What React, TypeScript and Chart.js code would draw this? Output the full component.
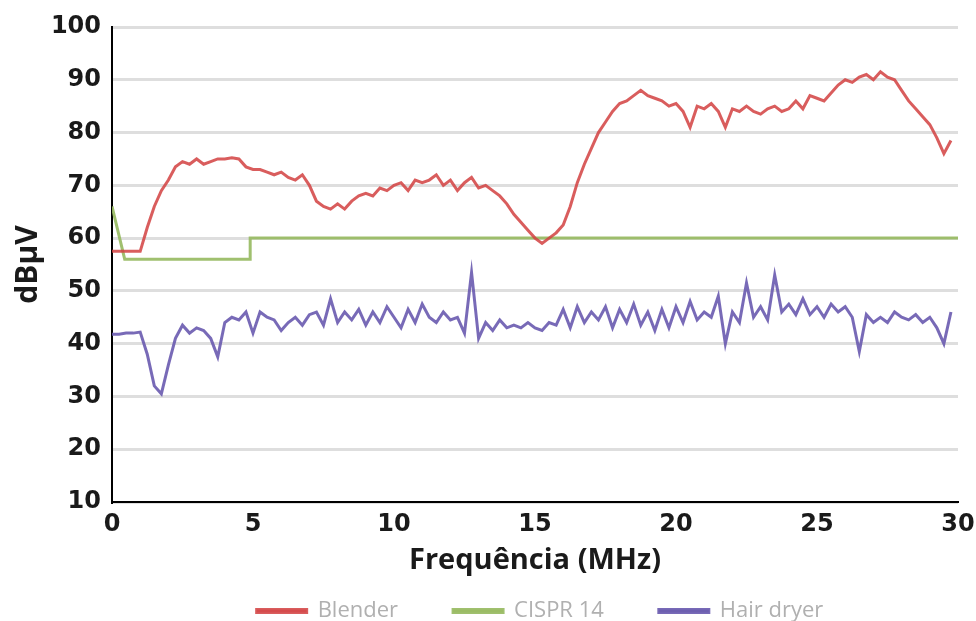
import React, { useEffect, useRef } from "react";
import { Chart, registerables } from "chart.js";

Chart.register(...registerables);

const FREQ = [
  0, 0.25, 0.5, 0.75, 1, 1.25, 1.5, 1.75, 2, 2.25, 2.5, 2.75, 3, 3.25, 3.5, 3.75, 4, 4.25, 4.5, 4.75,
  5, 5.25, 5.5, 5.75, 6, 6.25, 6.5, 6.75, 7, 7.25, 7.5, 7.75, 8, 8.25, 8.5, 8.75, 9, 9.25, 9.5, 9.75,
  10, 10.25, 10.5, 10.75, 11, 11.25, 11.5, 11.75, 12, 12.25, 12.5, 12.75, 13, 13.25, 13.5, 13.75, 14, 14.25, 14.5, 14.75,
  15, 15.25, 15.5, 15.75, 16, 16.25, 16.5, 16.75, 17, 17.25, 17.5, 17.75, 18, 18.25, 18.5, 18.75, 19, 19.25, 19.5, 19.75,
  20, 20.25, 20.5, 20.75, 21, 21.25, 21.5, 21.75, 22, 22.25, 22.5, 22.75, 23, 23.25, 23.5, 23.75, 24, 24.25, 24.5, 24.75,
  25, 25.25, 25.5, 25.75, 26, 26.25, 26.5, 26.75, 27, 27.25, 27.5, 27.75, 28, 28.25, 28.5, 28.75, 29, 29.25, 29.5, 29.75,
];

const BLENDER = [
  57.5, 57.5, 57.5, 57.5, 57.5, 62, 66, 69, 71, 73.5, 74.5, 74, 75, 74, 74.5, 75, 75, 75.2, 75, 73.5,
  73, 73, 72.5, 72, 72.5, 71.5, 71, 72, 70, 67, 66, 65.5, 66.5, 65.5, 67, 68, 68.5, 68, 69.5, 69,
  70, 70.5, 69, 71, 70.5, 71, 72, 70, 71, 69, 70.5, 71.5, 69.5, 70, 69, 68, 66.5, 64.5, 63, 61.5,
  60, 59, 60, 61, 62.5, 66, 70.5, 74, 77, 80, 82, 84, 85.5, 86, 87, 88, 87, 86.5, 86, 85,
  85.5, 84, 81, 85, 84.5, 85.5, 84, 81, 84.5, 84, 85, 84, 83.5, 84.5, 85, 84, 84.5, 86, 84.5, 87,
  86.5, 86, 87.5, 89, 90, 89.5, 90.5, 91, 90, 91.5, 90.5, 90, 88, 86, 84.5, 83, 81.5, 79, 76, 78.5,
];

const HAIR_DRYER = [
  41.8, 41.8, 42, 42, 42.2, 38, 32, 30.5, 36, 41, 43.5, 42, 43, 42.5, 41, 37.5, 44, 45, 44.5, 46,
  42, 46, 45, 44.5, 42.5, 44, 45, 43.5, 45.5, 46, 43.5, 48.5, 44, 46, 44.5, 46.5, 43.5, 46, 44, 47,
  45, 43, 46.5, 44, 47.5, 45, 44, 46, 44.5, 45, 42, 53.5, 41, 44, 42.5, 44.5, 43, 43.5, 43, 44,
  43, 42.5, 44, 43.5, 46.5, 43, 47, 44, 46, 44.5, 47, 43, 46.5, 44, 47.5, 43.5, 46, 42.5, 46.5, 43,
  47, 44, 48, 44.5, 46, 45, 49, 40, 46, 44, 51.5, 45, 47, 44.5, 53, 46, 47.5, 45.5, 48.5, 45.5,
  47, 45, 47.5, 46, 47, 45, 38.5, 45.5, 44, 45, 44, 46, 45, 44.5, 45.5, 44, 45, 43, 40, 46,
];

const CISPR_FREQ = [0, 0.45, 4.9, 4.9, 30];
const CISPR_14 = [66, 56, 56, 60, 60];

const SERIES_NAMES = ["Blender", "CISPR 14", "Hair dryer"];
const Y_TICKS = [10, 20, 30, 40, 50, 60, 70, 80, 90, 100];
const X_TICKS = [0, 5, 10, 15, 20, 25, 30];

export default function App() {
  const ref = useRef<HTMLCanvasElement | null>(null);

  useEffect(() => {
    if (!ref.current) return;
    const toXY = (xs: number[], ys: number[]) => xs.map((x, i) => ({ x, y: ys[i] }));
    const chart = new Chart(ref.current, {
      type: "line",
      data: {
        datasets: [
          {
            label: SERIES_NAMES[0],
            data: toXY(FREQ, BLENDER),
            borderColor: "rgba(210,65,65,0.85)",
            backgroundColor: "rgba(225,120,125,0.85)",
            borderWidth: 3,
            pointRadius: 0,
            tension: 0,
          },
          {
            label: SERIES_NAMES[1],
            data: toXY(CISPR_FREQ, CISPR_14),
            borderColor: "rgba(150,185,95,0.9)",
            backgroundColor: "rgba(200,215,150,0.9)",
            borderWidth: 3,
            pointRadius: 0,
            tension: 0,
          },
          {
            label: SERIES_NAMES[2],
            data: toXY(FREQ, HAIR_DRYER),
            borderColor: "rgba(105,90,175,0.9)",
            backgroundColor: "rgba(140,135,175,0.9)",
            borderWidth: 3,
            pointRadius: 0,
            tension: 0,
          },
        ],
      },
      options: {
        responsive: false,
        animation: false,
        layout: { padding: { left: 8, right: 18, top: 27, bottom: 0 } },
        plugins: {
          tooltip: { enabled: false },
          legend: {
            position: "bottom",
            labels: {
              boxWidth: 50,
              boxHeight: 3,
              padding: 55,
              color: "#b0b0b0",
              font: { family: "Open Sans", size: 22 },
            },
          },
        },
        scales: {
          x: {
            type: "linear",
            min: 0,
            max: 30,
            afterBuildTicks: (s: any) => {
              s.ticks = X_TICKS.map((v) => ({ value: v }));
            },
            afterFit: (s: any) => {
              s.height = 79;
              s.paddingRight = 0;
            },
            grid: { display: false, drawTicks: false },
            border: { color: "#000", width: 2 },
            ticks: {
              color: "#1a1a1a",
              padding: 8,
              maxRotation: 0,
              font: { family: "DejaVu Sans", size: 24, weight: "bold" },
            },
            title: {
              display: true,
              text: "Frequência (MHz)",
              color: "#1a1a1a",
              padding: { top: 0, bottom: 3 },
              font: { family: "Open Sans", size: 29, weight: "bold" },
            },
          },
          y: {
            min: 10,
            max: 100,
            afterBuildTicks: (s: any) => {
              s.ticks = Y_TICKS.map((v) => ({ value: v }));
            },
            afterFit: (s: any) => {
              s.width = 104;
            },
            grid: { color: "#dedede", lineWidth: 3, drawTicks: false },
            border: { color: "#000", width: 2 },
            ticks: {
              color: "#1a1a1a",
              padding: 11,
              font: { family: "DejaVu Sans", size: 24, weight: "bold" },
            },
            title: {
              display: true,
              text: "dBµV",
              color: "#1a1a1a",
              padding: { top: 2, bottom: 0 },
              font: { family: "Open Sans", size: 30, weight: "bold" },
            },
          },
        },
      },
    });

    // Keep the legend compact vertically while using wide horizontal spacing.
    const lg: any = chart.legend;
    if (lg) {
      const origFit = lg.fit.bind(lg);
      lg.fit = () => {
        origFit();
        lg.height = 40;
      };
      const origInnerDraw = lg._draw.bind(lg);
      lg._draw = () => {
        const ctx = chart.ctx;
        ctx.save();
        ctx.translate(57, -36);
        origInnerDraw();
        ctx.restore();
      };
      chart.update();
    }

    return () => chart.destroy();
  }, []);

  return (
    <div style={{ position: "fixed", left: 0, top: 0, width: 976, height: 621, background: "#fff" }}>
      <canvas ref={ref} width={976} height={621} style={{ display: "block" }} />
    </div>
  );
}
